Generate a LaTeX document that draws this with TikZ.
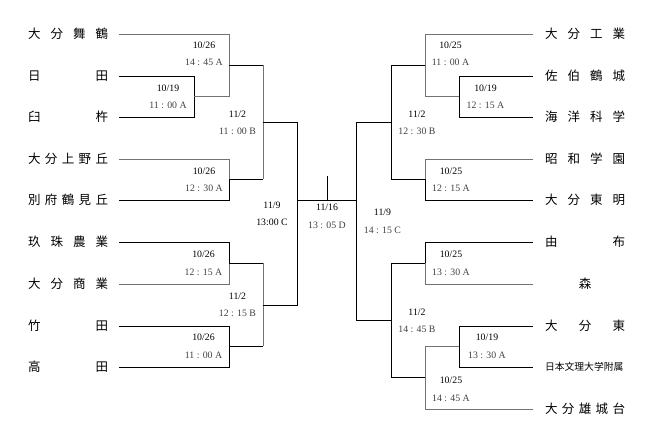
\documentclass[tikz,border=0pt]{standalone}
\usepackage{fontspec}
\usepackage{tikz}
\newfontfamily\jpfont{Noto Sans CJK JP}
\newfontfamily\numfont{Liberation Serif}
\newcommand{\kickoff}[1]{{\color{black!75}#1}}

\begin{document}
\begin{tikzpicture}[x=1pt, y=-1pt, line width=0.6pt,
        team/.style={text width=80pt, inner sep=0pt, font=\jpfont\fontsize{12.5}{14}\selectfont},
        date/.style={align=center, inner sep=0pt, font=\numfont\fontsize{9.8}{17.5}\selectfont},
        win/.style={draw=black!55, line width=0.8pt},
        lfeed/.style={shorten <=11pt},
        rfeed/.style={shorten <=12pt}]
        \useasboundingbox (0, 0) rectangle (654, 443);

        % Teams, left
        \node[team] (L1) at (68, 34) {大\hfill 分\hfill 舞\hfill 鶴};
        \node[team] (L2) at (68, 76) {日\hfill 田};
        \node[team] (L3) at (68, 117) {臼\hfill 杵};
        \node[team] (L4) at (68, 159) {大\hfill 分\hfill 上\hfill 野\hfill 丘};
        \node[team] (L5) at (68, 200) {別\hfill 府\hfill 鶴\hfill 見\hfill 丘};
        \node[team] (L6) at (68, 242) {玖\hfill 珠\hfill 農\hfill 業};
        \node[team] (L7) at (68, 284) {大\hfill 分\hfill 商\hfill 業};
        \node[team] (L8) at (68, 326) {竹\hfill 田};
        \node[team] (L9) at (68, 367) {高\hfill 田};

        % Teams, right
        \node[team] (R1) at (585, 34) {大\hfill 分\hfill 工\hfill 業};
        \node[team] (R2) at (585, 76) {佐\hfill 伯\hfill 鶴\hfill 城};
        \node[team] (R3) at (585, 117) {海\hfill 洋\hfill 科\hfill 学};
        \node[team] (R4) at (585, 159) {昭\hfill 和\hfill 学\hfill 園};
        \node[team] (R5) at (585, 200) {大\hfill 分\hfill 東\hfill 明};
        \node[team] (R6) at (585, 242) {由\hfill 布};
        \node[team, align=center] (R7) at (585, 284) {森};
        \node[team] (R8) at (585, 326) {大\hfill 分\hfill 東};
        \node[team, font=\jpfont\fontsize{9.8}{12}\selectfont] (R9) at (585, 367) {日本文理大学附属};
        \node[team] (R10) at (585, 409) {大\hfill 分\hfill 雄\hfill 城\hfill 台};

        % Match points
        \coordinate (l19) at (194, 96.5);
        \coordinate (l26a) at (229, 65);
        \coordinate (l26b) at (229, 179.5);
        \coordinate (l26c) at (229, 263);
        \coordinate (l26d) at (229, 346.5);
        \coordinate (l2a) at (263, 122);
        \coordinate (l2b) at (263, 305);
        \coordinate (l9) at (297, 200);
        \coordinate (r19a) at (459, 96.5);
        \coordinate (r19b) at (459, 346.5);
        \coordinate (r25a) at (425, 65);
        \coordinate (r25b) at (425, 179.5);
        \coordinate (r25c) at (425, 263);
        \coordinate (r25d) at (425, 377.75);
        \coordinate (r2a) at (391, 122);
        \coordinate (r2b) at (391, 320);
        \coordinate (r9) at (356, 200);
        \coordinate (fin) at (327, 200);
        \coordinate (champ) at (327, 176);

        % Lines, left
        \draw[lfeed] (L2.east) -| (l19);
        \draw[lfeed] (L3.east) -| (l19);
        \draw[win, lfeed] (L1.east) -| (l26a);
        \draw[win] (l19) -| (l26a);
        \draw[lfeed] (L5.east) -| (l26b);
        \draw[win, lfeed] (L4.east) -| (l26b);
        \draw[lfeed] (L6.east) -| (l26c);
        \draw[win, lfeed] (L7.east) -| (l26c);
        \draw[lfeed] (L8.east) -| (l26d);
        \draw[lfeed] (L9.east) -| (l26d);
        \draw (l26a) -- (l26a -| l2a);
        \draw (l26b) -- (l26b -| l2a);
        \draw[win] (l26a -| l2a) -- (l26b -| l2a);
        \draw (l26c) -- (l26c -| l2b);
        \draw (l26d) -- (l26d -| l2b);
        \draw[win] (l26c -| l2b) -- (l26d -| l2b);
        \draw (l2a) -| (l9);
        \draw (l2b) -| (l9);

        % Final
        \draw (l9) -- (r9);
        \draw (fin) -- (champ);

        % Lines, right
        \draw[rfeed] (R2.west) -| (r19a);
        \draw[rfeed] (R3.west) -| (r19a);
        \draw[win, rfeed] (R1.west) -| (r25a);
        \draw[win] (r19a) -| (r25a);
        \draw[rfeed] (R5.west) -| (r25b);
        \draw[win, rfeed] (R4.west) -| (r25b);
        \draw[rfeed] (R6.west) -| (r25c);
        \draw[win, rfeed] (R7.west) -| (r25c);
        \draw[rfeed] (R8.west) -| (r19b);
        \draw[rfeed] (R9.west) -| (r19b);
        \draw[win] (r19b) -| (r25d);
        \draw[win, rfeed] (R10.west) -| (r25d);
        \draw (r25a) -| (r2a);
        \draw (r25b) -| (r2a);
        \draw (r25c) -| (r2b);
        \draw (r25d) -| (r2b);
        \draw (r2a) -| (r9);
        \draw (r2b) -| (r9);

        % Dates
        \node[date] (dL1) at (204, 54) {10/26\\\kickoff{14 : 45 A}};
        \node[date] (dL2) at (168, 97) {10/19\\\kickoff{11 : 00 A}};
        \node[date] (dL3) at (237.5, 123) {11/2\\\kickoff{11 : 00 B}};
        \node[date] (dL4) at (204, 180) {10/26\\\kickoff{12 : 30 A}};
        \node[date] (dL5) at (272, 214) {11/9\\13:00 C};
        \node[date] (dL6) at (203.5, 263.5) {10/26\\\kickoff{12 : 15 A}};
        \node[date] (dL7) at (237.5, 305) {11/2\\\kickoff{12 : 15 B}};
        \node[date] (dL8) at (203.5, 346.5) {10/26\\\kickoff{11 : 00 A}};
        \node[date] (dF) at (327, 216.5) {11/16\\\kickoff{13 : 05 D}};
        \node[date] (dR1) at (450.5, 54) {10/25\\\kickoff{11 : 00 A}};
        \node[date] (dR2) at (485.5, 97) {10/19\\\kickoff{12 : 15 A}};
        \node[date] (dR3) at (417, 123) {11/2\\\kickoff{12 : 30 B}};
        \node[date] (dR4) at (451, 180) {10/25\\\kickoff{12 : 15 A}};
        \node[date] (dR5) at (382.5, 221.5) {11/9\\\kickoff{14 : 15 C}};
        \node[date] (dR6) at (451, 263.5) {10/25\\\kickoff{13 : 30 A}};
        \node[date] (dR7) at (417, 321) {11/2\\\kickoff{14 : 45 B}};
        \node[date] (dR8) at (487, 346.5) {10/19\\\kickoff{13 : 30 A}};
        \node[date] (dR9) at (451, 389.5) {10/25\\\kickoff{14 : 45 A}};

\end{tikzpicture}
\end{document}
